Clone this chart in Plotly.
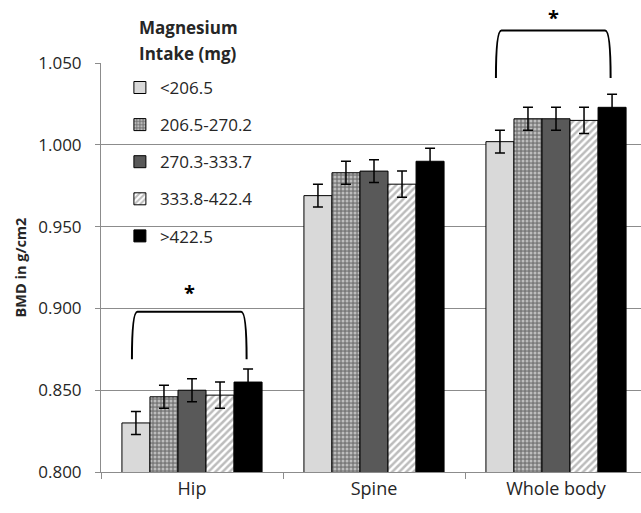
import plotly.graph_objects as go

categories = ["Hip", "Spine", "Whole body"]
series_names = ["<206.5", "206.5-270.2", "270.3-333.7", "333.8-422.4", ">422.5"]
values = [
    [0.830, 0.969, 1.002],
    [0.846, 0.983, 1.016],
    [0.850, 0.984, 1.016],
    [0.847, 0.976, 1.015],
    [0.855, 0.990, 1.023],
]
errors = [
    [0.007, 0.007, 0.007],
    [0.007, 0.007, 0.007],
    [0.007, 0.007, 0.007],
    [0.008, 0.008, 0.008],
    [0.008, 0.008, 0.008],
]
y_ticks = [0.800, 0.850, 0.900, 0.950, 1.000, 1.050]
legend_title_lines = ["Magnesium", "Intake (mg)"]
# significance brackets: category index, top value, tip value, star value
sig_categories = [0, 2]
sig_top = [0.898, 1.070]
sig_tip = [0.869, 1.041]
sig_star = [0.910, 1.078]

FONT = "Open Sans"
GRID = "#8c8c8c"
Y0, Y1 = 0.800, 1.0501

styles = [
    dict(color="#d9d9d9"),
    dict(color="#7a7a7a", pattern=dict(shape=".", fgcolor="white", bgcolor="#7a7a7a", size=4, solidity=0.45)),
    dict(color="#595959"),
    dict(color="white", pattern=dict(shape="/", fgcolor="#7a7a7a", bgcolor="white", size=5, solidity=0.5)),
    dict(color="#000000"),
]

fig = go.Figure()
for i, name in enumerate(series_names):
    fig.add_trace(go.Bar(
        x=categories, y=values[i], name=name, legendgroup=f"g{i}",
        marker=dict(**styles[i], line=dict(color="#000000", width=1)),
        error_y=dict(type="data", array=errors[i], visible=True, color="#000000", thickness=1.5, width=5),
    ))

def ypaper(v):
    return (v - Y0) / (Y1 - Y0)

shapes = []
annotations = []
xl_off, xr_off, dx = -0.33, 0.30, 0.03
for c, top, tip, star in zip(sig_categories, sig_top, sig_tip, sig_star):
    xl, xr = c + xl_off, c + xr_off
    yt, yb = ypaper(top), ypaper(tip)
    path = (f"M {xl},{yb} Q {xl},{yt} {xl+dx},{yt} L {xr-dx},{yt} Q {xr},{yt} {xr},{yb}")
    shapes.append(dict(type="path", path=path, xref="x", yref="paper",
                       line=dict(color="black", width=2)))
    annotations.append(dict(x=c + (xl_off + xr_off) / 2, y=ypaper(star), xref="x", yref="paper",
                            xanchor="center", yanchor="middle",
                            text="<b>*</b>", showarrow=False, font=dict(size=20, color="black", family=FONT)))

# legend title (two lines)
for line, ypos in zip(legend_title_lines, [1.0856, 1.024]):
    annotations.append(dict(x=0.066, y=ypos, xref="paper", yref="paper", xanchor="left", yanchor="middle",
                            align="left", text=f"<b>{line}</b>", showarrow=False,
                            font=dict(size=17, color="#262626", family=FONT)))

# white background behind legend (covers gridlines only)
shapes.append(dict(type="rect", xref="paper", yref="paper", x0=0.05, x1=0.307, y0=0.53, y1=0.983,
                   fillcolor="white", line=dict(width=0), layer="between"))

fig.update_layout(
    width=641, height=513,
    margin=dict(l=101, r=0, t=63, b=41, autoexpand=False),
    paper_bgcolor="white", plot_bgcolor="white",
    barmode="group", bargap=0.23, bargroupgap=0,
    font=dict(family=FONT, size=17, color="#262626"),
    showlegend=True,
    legend=dict(
        x=0.035, y=0.983, xanchor="left", yanchor="top",
        bgcolor="rgba(0,0,0,0)", tracegroupgap=12,
        font=dict(size=17, family=FONT),
        itemclick=False,
    ),
    xaxis=dict(
        range=[-0.5, 2.467], showline=True, linecolor=GRID, linewidth=1,
        ticks="outside", tickson="boundaries", ticklen=6, tickcolor=GRID,
        showgrid=False, tickfont=dict(size=18, family=FONT), automargin=False,
    ),
    yaxis=dict(
        range=[Y0, Y1], tickvals=y_ticks, tickformat=".3f",
        showline=True, linecolor=GRID, linewidth=1,
        ticks="outside", ticklen=5, tickcolor=GRID,
        showgrid=True, gridcolor=GRID, gridwidth=1,
        tickfont=dict(size=17, family=FONT), automargin=False, ticklabelstandoff=10,
        title=dict(text="<b>BMD in g/cm2</b>", font=dict(size=14.5, family=FONT), standoff=8),
    ),
    shapes=shapes, annotations=annotations,
)

fig.write_html(
    "out.html", config={"displayModeBar": False},
    post_script=("document.body.style.margin='0px';"
                 "document.body.style.overflow='hidden';"
                 "document.documentElement.style.overflow='hidden';"),
)
